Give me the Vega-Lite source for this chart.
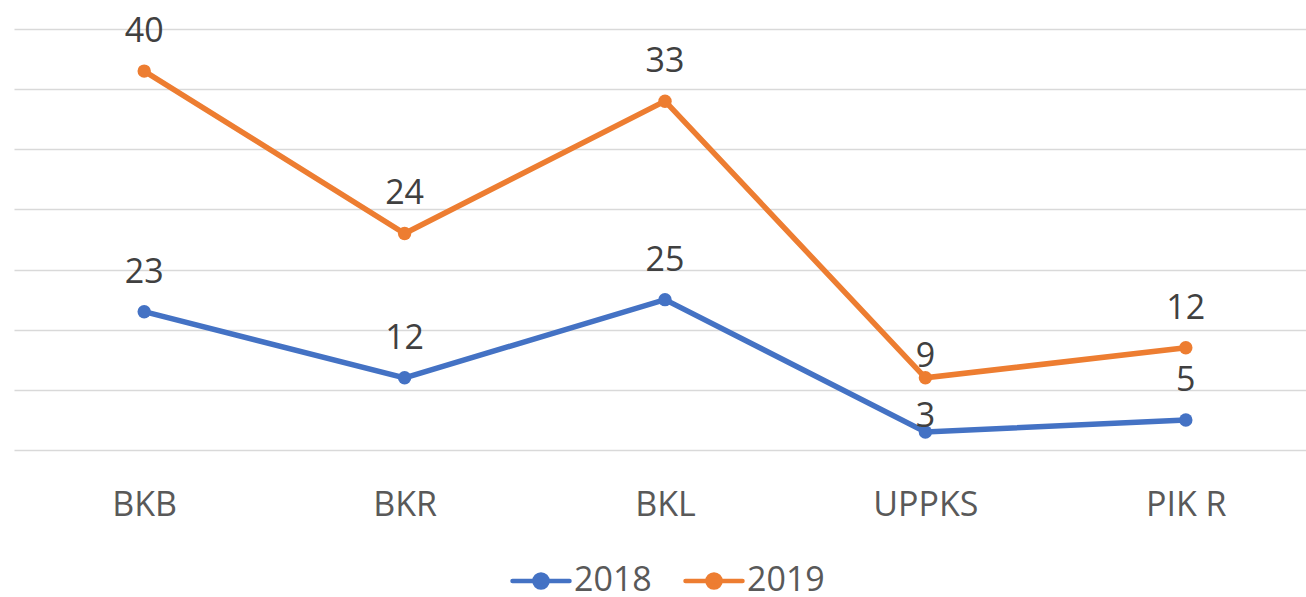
{
  "$schema": "https://vega.github.io/schema/vega-lite/v6.json",
  "width": 1302,
  "height": 421,
  "padding": {"left": 14, "top": 29, "right": 0, "bottom": 147},
  "autosize": {"type": "none"},
  "background": "white",
  "config": {
    "view": {"stroke": null},
    "font": "Open Sans"
  },
  "data": {
    "values": [
      {"cat": "BKB", "year": "2018", "value": 23},
      {"cat": "BKR", "year": "2018", "value": 12},
      {"cat": "BKL", "year": "2018", "value": 25},
      {"cat": "UPPKS", "year": "2018", "value": 3},
      {"cat": "PIK R", "year": "2018", "value": 5},
      {"cat": "BKB", "year": "2019", "value": 40},
      {"cat": "BKR", "year": "2019", "value": 24},
      {"cat": "BKL", "year": "2019", "value": 33},
      {"cat": "UPPKS", "year": "2019", "value": 9},
      {"cat": "PIK R", "year": "2019", "value": 12}
    ]
  },
  "encoding": {
    "x": {
      "field": "cat", "type": "nominal", "sort": null,
      "scale": {"type": "point", "padding": 0.5},
      "axis": {"title": null, "labelAngle": 0, "ticks": false, "domain": false, "grid": false,
               "labelFontSize": 34, "labelColor": "#595959", "labelPadding": 38, "labelFont": "Open Sans"}
    },
    "y": {
      "field": "value", "type": "quantitative", "stack": "zero",
      "scale": {"domain": [0, 70], "nice": false},
      "axis": {"title": null, "labels": false, "ticks": false, "domain": false,
               "values": [0, 10, 20, 30, 40, 50, 60, 70],
               "gridColor": "#d9d9d9", "gridWidth": 1.5}
    },
    "color": {
      "field": "year", "type": "nominal",
      "scale": {"domain": ["2018", "2019"], "range": ["#4472C4", "#ED7D31"]},
      "legend": {
        "title": null, "orient": "none", "direction": "horizontal",
        "legendX": 496, "legendY": 521,
        "labelFontSize": 34, "labelColor": "#595959", "labelFont": "Open Sans",
        "symbolType": "M-1,0H1M-0.23,0A0.23,0.23 0 1,1 0.23,0A0.23,0.23 0 1,1 -0.23,0Z",
        "symbolSize": 3249, "symbolStrokeWidth": 4.5,
        "labelOffset": 2, "columnPadding": 24,
        "encode": {
          "symbols": {
            "update": {
              "fill": {"scale": "color", "field": "value"},
              "stroke": {"scale": "color", "field": "value"},
              "strokeCap": {"value": "round"},
              "opacity": {"value": 1}
            }
          }
        }
      }
    },
    "order": {"field": "year", "type": "nominal"}
  },
  "layer": [
    {"mark": {"type": "line", "strokeWidth": 5.5, "point": {"size": 180, "filled": true, "opacity": 1}}},
    {"transform": [{"filter": "!(datum.cat === 'UPPKS' && datum.year === '2018')"}],
     "mark": {"type": "text", "fontSize": 34, "dy": -29, "baseline": "alphabetic", "color": "#404040", "font": "Open Sans"},
     "encoding": {"text": {"field": "value", "type": "quantitative"}, "color": {"value": "#404040"}}},
    {"transform": [{"filter": "datum.cat === 'UPPKS' && datum.year === '2018'"}],
     "mark": {"type": "text", "fontSize": 34, "dy": -5, "baseline": "alphabetic", "color": "#404040", "font": "Open Sans"},
     "encoding": {"text": {"field": "value", "type": "quantitative"}, "color": {"value": "#404040"}}}
  ]
}
